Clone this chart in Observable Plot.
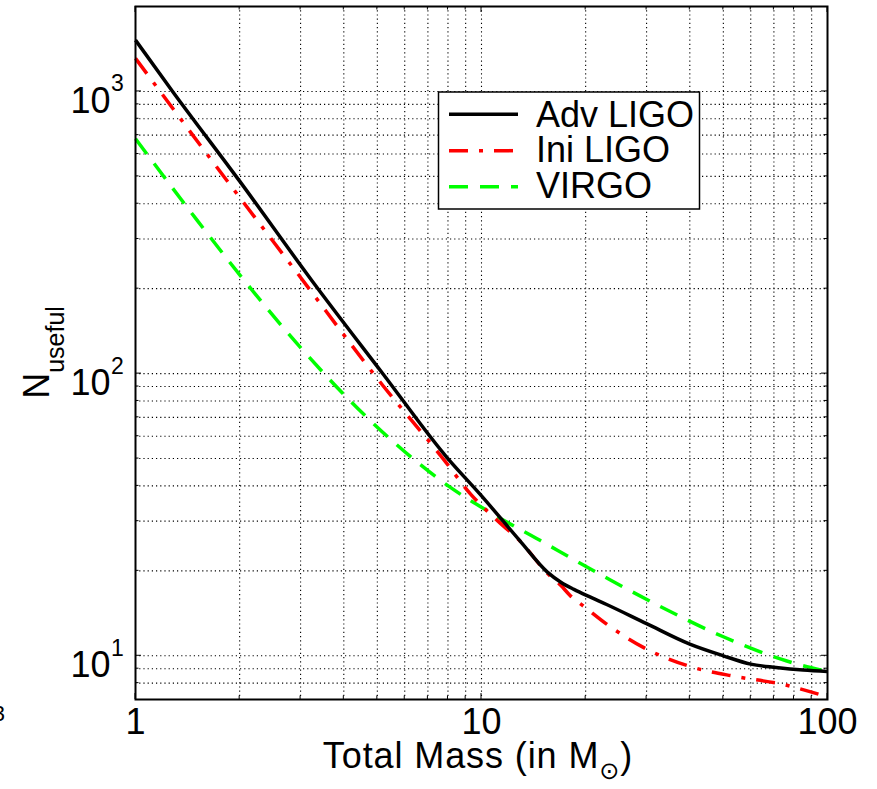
<!DOCTYPE html>
<html>
<head>
<meta charset="utf-8">
<script src="https://cdn.jsdelivr.net/npm/d3@7"></script>
<script src="https://cdn.jsdelivr.net/npm/@observablehq/plot@0.6"></script>
<style>
  html, body { margin: 0; padding: 0; background: #fff; }
  #chart svg { display: block; }
</style>
</head>
<body>
<div id="chart"></div>
<script>
// ---- Data ----
const advMass = [1, 1.28, 2, 3.24, 5.2, 7.95, 9.9, 12.9, 15.5, 17, 18.5, 20.5, 23, 30, 40, 50, 60, 71, 85, 100];
const advN    = [1520, 1000, 481, 213, 99.5, 50.4, 37.4, 25.6, 19.8, 18.2, 17.2, 16.2, 15.2, 13.0, 11.0, 10.0, 9.34, 9.09, 8.9, 8.8];

const iniMass = [1, 1.68, 2.96, 5.2, 7.77, 9.3, 11, 13, 15.5, 17, 18, 20, 23, 30, 40, 54, 73.5, 100];
const iniN    = [1310, 559, 224, 90.4, 49.7, 37.4, 30.5, 25.3, 19.6, 17.7, 16.4, 14.8, 12.95, 10.56, 9.17, 8.45, 7.94, 7.15];

const virgoMass = [1, 1.5, 2.03, 3, 4.62, 6.37, 8.13, 10.6, 14.8, 19, 23.5, 34.3, 50, 73, 85, 100];
const virgoN    = [680, 352, 219, 123.6, 70.8, 49.7, 39.5, 32.2, 25.6, 21.5, 18.6, 14.56, 11.68, 9.75, 9.22, 8.8];

const seriesNames = ["Adv LIGO", "Ini LIGO", "VIRGO"];

const xTickValues = [1, 10, 100];
const xTickLabels = ["1", "10", "100"];
const yTickValues = [10, 100, 1000];
const yTickBase = ["10", "10", "10"];
const yTickExp = ["1", "2", "3"];

const xGrid = [2, 3, 4, 5, 6, 7, 8, 9, 10, 20, 30, 40, 50, 60, 70, 80, 90];
const yGrid = [8, 9, 10, 20, 30, 40, 50, 60, 70, 80, 90, 100, 200, 300, 400, 500, 600, 700, 800, 900, 1000];

const xLabelMain = "Total Mass (in M";
const xLabelSub = "\u2299";
const xLabelEnd = ")";
const yLabelMain = "N";
const yLabelSub = "useful";

// ---- Tables ----
const mk = (ms, ns, name) => ms.map((m, i) => ({mass: m, n: ns[i], series: name}));
const advData = mk(advMass, advN, seriesNames[0]);
const iniData = mk(iniMass, iniN, seriesNames[1]);
const virgoData = mk(virgoMass, virgoN, seriesNames[2]);

const seriesStyle = [
  {stroke: "#000000", dash: null},
  {stroke: "#ff0000", dash: "19,11,4,11"},
  {stroke: "#00ff00", dash: "19,12"}
];

const FONT = "'Liberation Sans', Arial, Helvetica, sans-serif";
const LW = 3.5;
const gridStyle = {stroke: "#000", strokeWidth: 1.1, strokeDasharray: "1.2,3"};

const lineOpts = (k) => {
  const o = {x: "mass", y: "n", stroke: seriesStyle[k].stroke, strokeWidth: LW,
             curve: "monotone-x", strokeLinecap: "butt", strokeLinejoin: "round"};
  if (seriesStyle[k].dash) o.strokeDasharray = seriesStyle[k].dash;
  return o;
};

const chart = Plot.plot({
  width: 877,
  height: 789,
  marginLeft: 135,
  marginRight: 50,
  marginTop: 6,
  marginBottom: 90,
  style: {fontFamily: FONT, background: "#fff", color: "#000", overflow: "visible"},
  x: {type: "log", domain: [1, 100], axis: null},
  y: {type: "log", domain: [7, 2000], axis: null},
  marks: [
    Plot.ruleX(xGrid, gridStyle),
    Plot.ruleY(yGrid, gridStyle),
    Plot.line(virgoData, lineOpts(2)),
    Plot.line(iniData, lineOpts(1)),
    Plot.line(advData, lineOpts(0)),
    Plot.frame({stroke: "#000", strokeWidth: 2}),
    // x tick labels
    Plot.text(xTickValues, {x: d => d, frameAnchor: "bottom", text: (d, i) => xTickLabels[i],
      lineAnchor: "bottom", dy: 34.5, fontSize: 36, fill: "#000"}),
    // y tick labels: base and exponent
    Plot.text(yTickValues, {y: d => d, frameAnchor: "left", text: (d, i) => yTickBase[i],
      textAnchor: "end", lineAnchor: "bottom", dx: -25, dy: 21.3, fontSize: 36, fill: "#000"}),
    Plot.text(yTickValues, {y: d => d, frameAnchor: "left", text: (d, i) => yTickExp[i],
      textAnchor: "start", lineAnchor: "bottom", dx: -24.5, dy: 0, fontSize: 23, fill: "#000"})
  ]
});

document.getElementById("chart").appendChild(chart);

// ---- Extra decorations using the plot's scales ----
const sx = chart.scale("x").apply;
const sy = chart.scale("y").apply;
const svg = d3.select(chart);
const [x0, x1] = [sx(1), sx(100)];
const [yb, yt] = [sy(7), sy(2000)];

const ticks = svg.append("g").attr("stroke", "#000").attr("stroke-width", 1);
const majorX = new Set(xTickValues);
const allX = xGrid.concat([1, 100]);
allX.forEach(v => {
  const L = majorX.has(v) ? 6 : 3.5;
  const X = sx(v);
  ticks.append("line").attr("x1", X).attr("x2", X).attr("y1", yb).attr("y2", yb - L);
  ticks.append("line").attr("x1", X).attr("x2", X).attr("y1", yt).attr("y2", yt + L);
});
const majorY = new Set(yTickValues);
yGrid.forEach(v => {
  const L = majorY.has(v) ? 6 : 3.5;
  const Y = sy(v);
  ticks.append("line").attr("x1", x0).attr("x2", x0 + L).attr("y1", Y).attr("y2", Y);
  ticks.append("line").attr("x1", x1).attr("x2", x1 - L).attr("y1", Y).attr("y2", Y);
});

// x axis label
const xl = svg.append("text")
  .attr("x", (x0 + x1) / 2 - 3).attr("y", 768)
  .attr("text-anchor", "middle")
  .attr("font-family", FONT).attr("font-size", 36).attr("fill", "#000")
  .attr("letter-spacing", "0.9px");
xl.append("tspan").text(xLabelMain);
xl.append("tspan").attr("font-size", 24).attr("dy", 11).attr("font-family", "'DejaVu Sans', sans-serif").text(xLabelSub);
xl.append("tspan").attr("dy", -11).text(xLabelEnd);

// y axis label
const yl = svg.append("text")
  .attr("transform", `translate(48.5,${(yb + yt) / 2}) rotate(-90)`)
  .attr("text-anchor", "middle")
  .attr("font-family", FONT).attr("font-size", 36).attr("fill", "#000");
yl.append("tspan").text(yLabelMain);
yl.append("tspan").attr("font-size", 25).attr("dy", 15).text(yLabelSub);

// partial glyph at the far left edge (from neighbouring panel)
svg.append("text").attr("x", 5).attr("y", 721).attr("text-anchor", "end")
  .attr("font-family", FONT).attr("font-size", 22).attr("fill", "#000").text("3");

// legend
const lg = svg.append("g");
lg.append("rect").attr("x", 438.5).attr("y", 92).attr("width", 261).attr("height", 117)
  .attr("fill", "#fff").attr("stroke", "#000").attr("stroke-width", 1.5);
const rowY = [114.3, 150.7, 186.7];
const baseY = [126.7, 162.2, 197.8];
seriesNames.forEach((name, k) => {
  const ln = lg.append("line").attr("x1", 449).attr("x2", 518).attr("y1", rowY[k]).attr("y2", rowY[k])
    .attr("stroke", seriesStyle[k].stroke).attr("stroke-width", LW).attr("stroke-linecap", "butt");
  if (seriesStyle[k].dash) ln.attr("stroke-dasharray", seriesStyle[k].dash);
  lg.append("text").attr("x", 536).attr("y", baseY[k]).attr("text-anchor", "start")
    .attr("font-family", FONT).attr("font-size", 36).attr("fill", "#000").text(name);
});
</script>
</body>
</html>
